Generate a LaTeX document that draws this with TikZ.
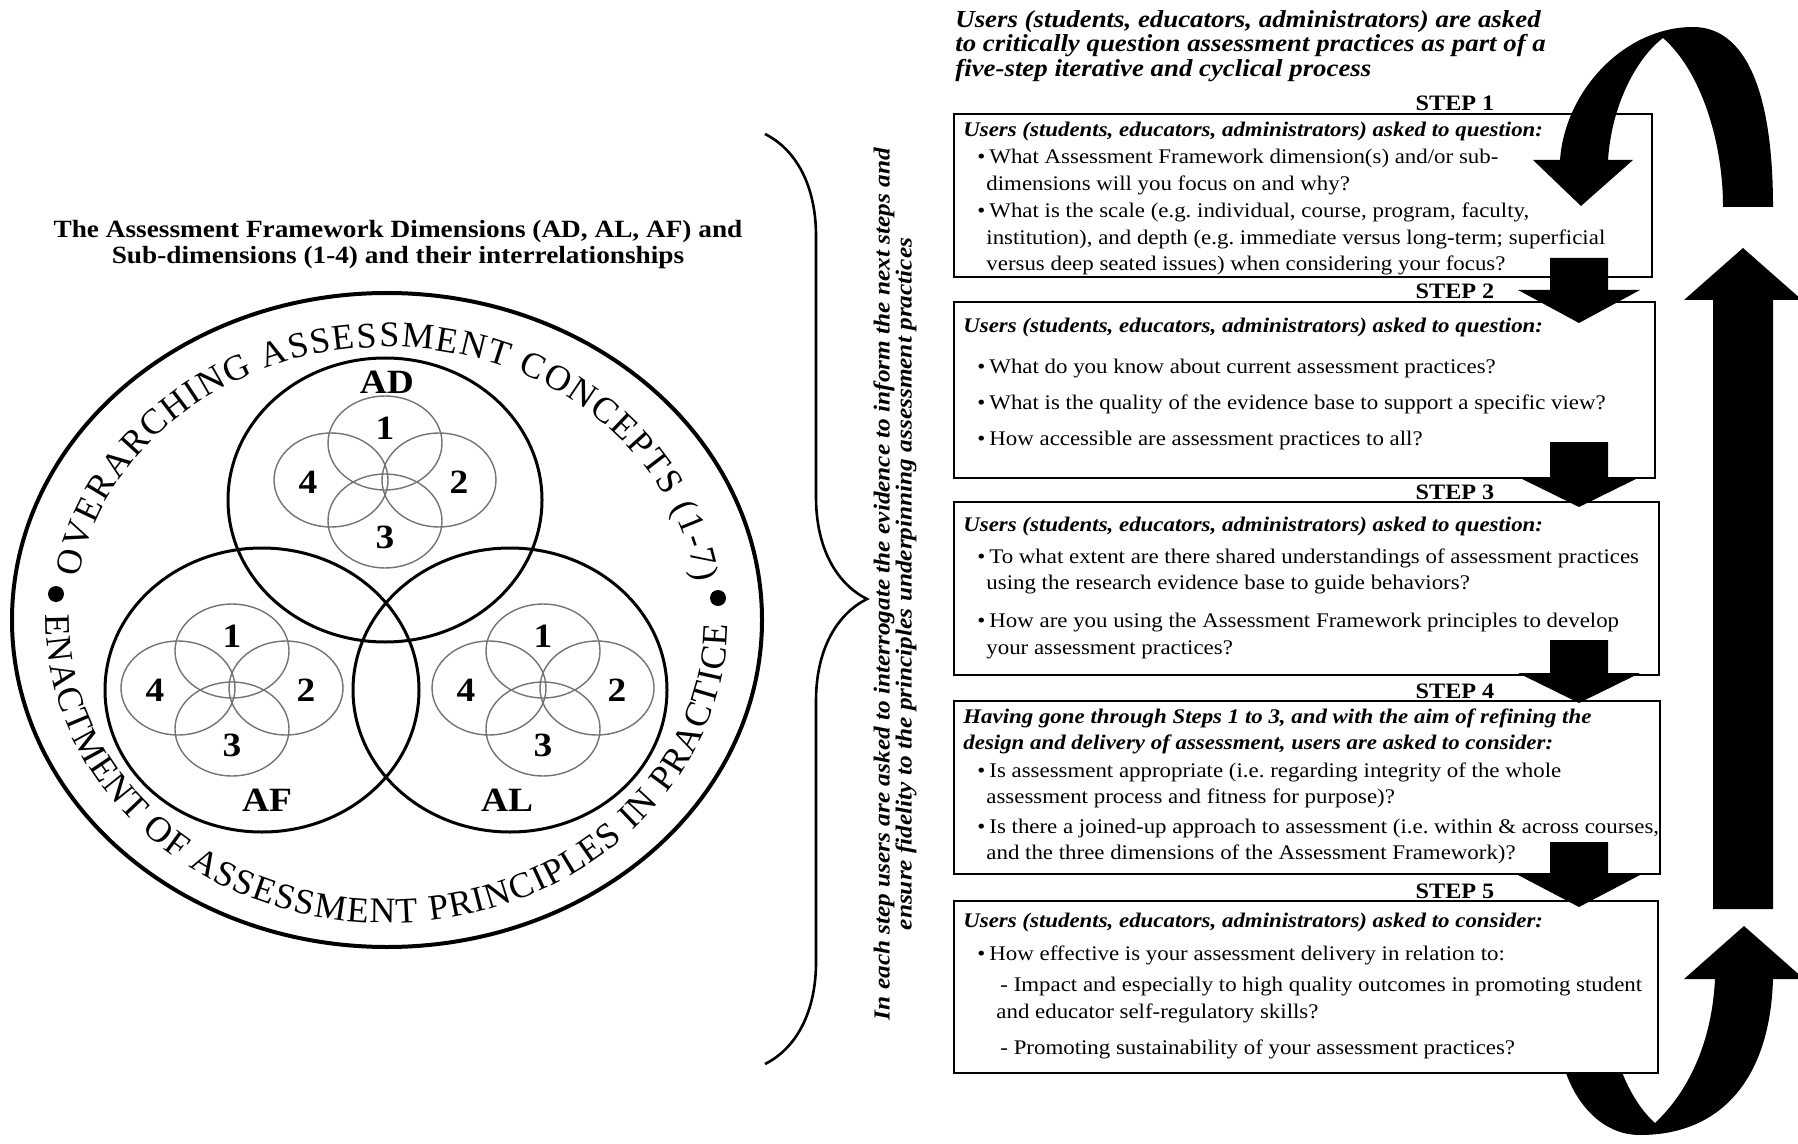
\documentclass[tikz,border=0pt]{standalone}
\usepackage{fontspec}
\setmainfont{Liberation Serif}[FakeStretch=1.1]
\newfontfamily\ringfam{Liberation Serif}
\usetikzlibrary{decorations.pathreplacing,decorations.text}
\frenchspacing

\newcommand{\ringfont}{\ringfam\fontsize{18}{18}\selectfont}
\newcommand{\itm}{\hspace*{7pt}\textbullet\hspace{2pt}}
\newcommand{\cnt}{\hspace*{11.5pt}}
\newcommand{\qhead}[1]{\textbf{\textit{#1}}}

\tikzset{
  ring/.style={line width=2pt},
  dimcircle/.style={line width=1.5pt},
  petal/.style={black!55, line width=0.7pt},
  numlbl/.style={font=\fontsize{17}{17}\selectfont\bfseries, inner sep=0pt},
  stepbox/.style={draw, line width=1.2pt, fill=white, anchor=north west, inner sep=0pt},
  steplbl/.style={font=\fontsize{11}{11}\selectfont\bfseries, anchor=base, inner sep=0pt},
  boxtext/.style={anchor=north west, inner sep=0pt, align=left, font=\fontsize{10.4}{13}\selectfont},
}

\begin{document}
\begin{tikzpicture}[x=0.5pt, y=-0.5pt]
  \useasboundingbox (0,0) rectangle (1798,1144);

  % --- Left: title ---
  \node[align=center, inner sep=0pt, font=\fontsize{12.4}{13}\selectfont\bfseries] (title) at (398,245)
    {The Assessment Framework Dimensions (AD, AL, AF) and\\Sub-dimensions (1-4) and their interrelationships};

  % --- outer ring with curved texts ---
  \coordinate (rc) at (387,620);
  \draw[ring] (rc) ellipse (375 and 327);
  \path[decorate, decoration={text along path, text align={fit to path},
      text={|\ringfont|OVERARCHING ASSESSMENT CONCEPTS (1-7)}}]
    (rc) ++(-171:312 and 273) arc[start angle=-171, end angle=-8, x radius=312, y radius=273];
  \path[decorate, decoration={text along path, text align={fit to path},
      text={|\ringfont|ENACTMENT OF ASSESSMENT PRINCIPLES IN PRACTICE}}]
    (rc) ++(-179:341 and 303) arc[start angle=-179, end angle=-359, x radius=341, y radius=303];
  \fill (56,594) circle (4pt);
  \fill (718,598) circle (4pt);

  % --- three dimension circles ---
  \draw[dimcircle] (385,500) ellipse (157 and 142);
  \draw[dimcircle] (262,690) ellipse (157 and 142);
  \draw[dimcircle] (510,690) ellipse (157 and 142);
  \node[numlbl] (AD) at (387,382) {AD};
  \node[numlbl] (AF) at (267,800) {AF};
  \node[numlbl] (AL) at (507,800) {AL};

  % --- sub-dimension flowers ---
  \foreach \fx/\fy/\nm in {385/482/AD, 232/690/AF, 543/690/AL} {
    \draw[petal] (\fx,\fy-39) ellipse (57 and 47);
    \draw[petal] (\fx,\fy+39) ellipse (57 and 47);
    \draw[petal] (\fx-54,\fy-2) ellipse (57 and 47);
    \draw[petal] (\fx+54,\fy-2) ellipse (57 and 47);
    \node[numlbl] (\nm-1) at (\fx,\fy-54) {1};
    \node[numlbl] (\nm-2) at (\fx+74,\fy) {2};
    \node[numlbl] (\nm-3) at (\fx,\fy+55) {3};
    \node[numlbl] (\nm-4) at (\fx-77,\fy) {4};
  }

  % --- brace and side note ---
  \coordinate (braceTop) at (765,134);
  \coordinate (braceBot) at (765,1064);
  \draw[line width=1.3pt, decorate, decoration={brace, amplitude=51pt}] (braceTop) -- (braceBot);
  \node[rotate=90, align=center, inner sep=0pt, font=\fontsize{11.5}{11}\selectfont\bfseries\itshape] (note) at (895,584)
    {In each step users are asked to interrogate the evidence to inform the next steps and\\
     ensure fidelity to the principles underpinning assessment practices};

  % --- Right: intro text ---
  \node[anchor=north west, align=left, inner sep=0pt, font=\fontsize{12.2}{10.8}\selectfont\bfseries\itshape] (intro) at (955,10)
    {Users (students, educators, administrators) are asked\\
     to critically question assessment practices as part of a\\
     five-step iterative and cyclical process};

  % --- bottom return arrow (behind step 5) ---
  \fill (1562,1060) .. controls (1572,1100) and (1600,1135) .. (1640,1135)
    .. controls (1720,1135) and (1770,1080) .. (1773,979)
    -- (1804,979) -- (1744,926) -- (1684,979) -- (1715,979)
    .. controls (1712,1040) and (1690,1090) .. (1655,1123)
    .. controls (1640,1110) and (1625,1085) .. (1618,1060) -- cycle;

  % --- step boxes ---
  \node[stepbox, minimum width=349pt, minimum height=81.5pt] (box1) at (953,113) {};
  \node[stepbox, minimum width=350.5pt, minimum height=88pt] (box2) at (953,301) {};
  \node[stepbox, minimum width=352.5pt, minimum height=86.5pt] (box3) at (953,501) {};
  \node[stepbox, minimum width=353pt, minimum height=86.5pt] (box4) at (953,700) {};
  \node[stepbox, minimum width=352pt, minimum height=86pt] (box5) at (953,900) {};
  \foreach \i/\y in {1/111, 2/299, 3/499, 4/698, 5/898}
    \node[steplbl] (lbl\i) at (1455,\y) {STEP \i};

  \node[boxtext, font=\fontsize{10.4}{13.4}\selectfont] (txt1) at (963,122)
    {\qhead{Users (students, educators, administrators) asked to question:}\\
     \itm What Assessment Framework dimension(s) and/or sub-\\
     \cnt dimensions will you focus on and why?\\
     \itm What is the scale (e.g. individual, course, program, faculty,\\
     \cnt institution), and depth (e.g. immediate versus long-term; superficial\\
     \cnt versus deep seated issues) when considering your focus?};
  \node[boxtext] (txt2) at (963,318)
    {\qhead{Users (students, educators, administrators) asked to question:}\\[7.5pt]
     \itm What do you know about current assessment practices?\\[5pt]
     \itm What is the quality of the evidence base to support a specific view?\\[5pt]
     \itm How accessible are assessment practices to all?};
  \node[boxtext] (txt3) at (963,517)
    {\qhead{Users (students, educators, administrators) asked to question:}\\[3pt]
     \itm To what extent are there shared understandings of assessment practices\\
     \cnt using the research evidence base to guide behaviors?\\[6pt]
     \itm How are you using the Assessment Framework principles to develop\\[0.5pt]
     \cnt your assessment practices?};
  \node[boxtext] (txt4) at (963,708)
    {\qhead{Having gone through Steps 1 to 3, and with the aim of refining the}\\
     \qhead{design and delivery of assessment, users are asked to consider:}\\[1pt]
     \itm Is assessment appropriate (i.e. regarding integrity of the whole\\
     \cnt assessment process and fitness for purpose)?\\[2pt]
     \itm Is there a joined-up approach to assessment (i.e. within \& across courses,\\
     \cnt and the three dimensions of the Assessment Framework)?};
  \node[boxtext] (txt5) at (963,913)
    {\qhead{Users (students, educators, administrators) asked to consider:}\\[3.5pt]
     \itm How effective is your assessment delivery in relation to:\\[2.5pt]
     \hspace*{18.5pt}- Impact and especially to high quality outcomes in promoting student\\[0.5pt]
     \hspace*{16.5pt}and educator self-regulatory skills?\\[5pt]
     \hspace*{18.5pt}- Promoting sustainability of your assessment practices?};

  % --- block arrows between steps ---
  \foreach \t/\b/\p in {258/290/323, 442/477/507, 640/673/703, 842/875/907}
    \fill (1550,\t) -- (1608,\t) -- (1608,\b) -- (1640,\b) -- (1579,\p) -- (1518,\b) -- (1550,\b) -- cycle;

  % --- top return arrow ---
  \fill (1773,207) .. controls (1773,90) and (1745,27) .. (1693,27)
    .. controls (1625,27) and (1565,90) .. (1560,160)
    -- (1533,160) -- (1581,206) -- (1633,160) -- (1608,160)
    .. controls (1612,100) and (1640,55) .. (1663,38)
    .. controls (1700,70) and (1723,140) .. (1723,207) -- cycle;

  % --- long upward arrow ---
  \fill (1713,909) -- (1713,300) -- (1684,300) -- (1743,248) -- (1802,300) -- (1773,300) -- (1773,909) -- cycle;
\end{tikzpicture}
\end{document}
